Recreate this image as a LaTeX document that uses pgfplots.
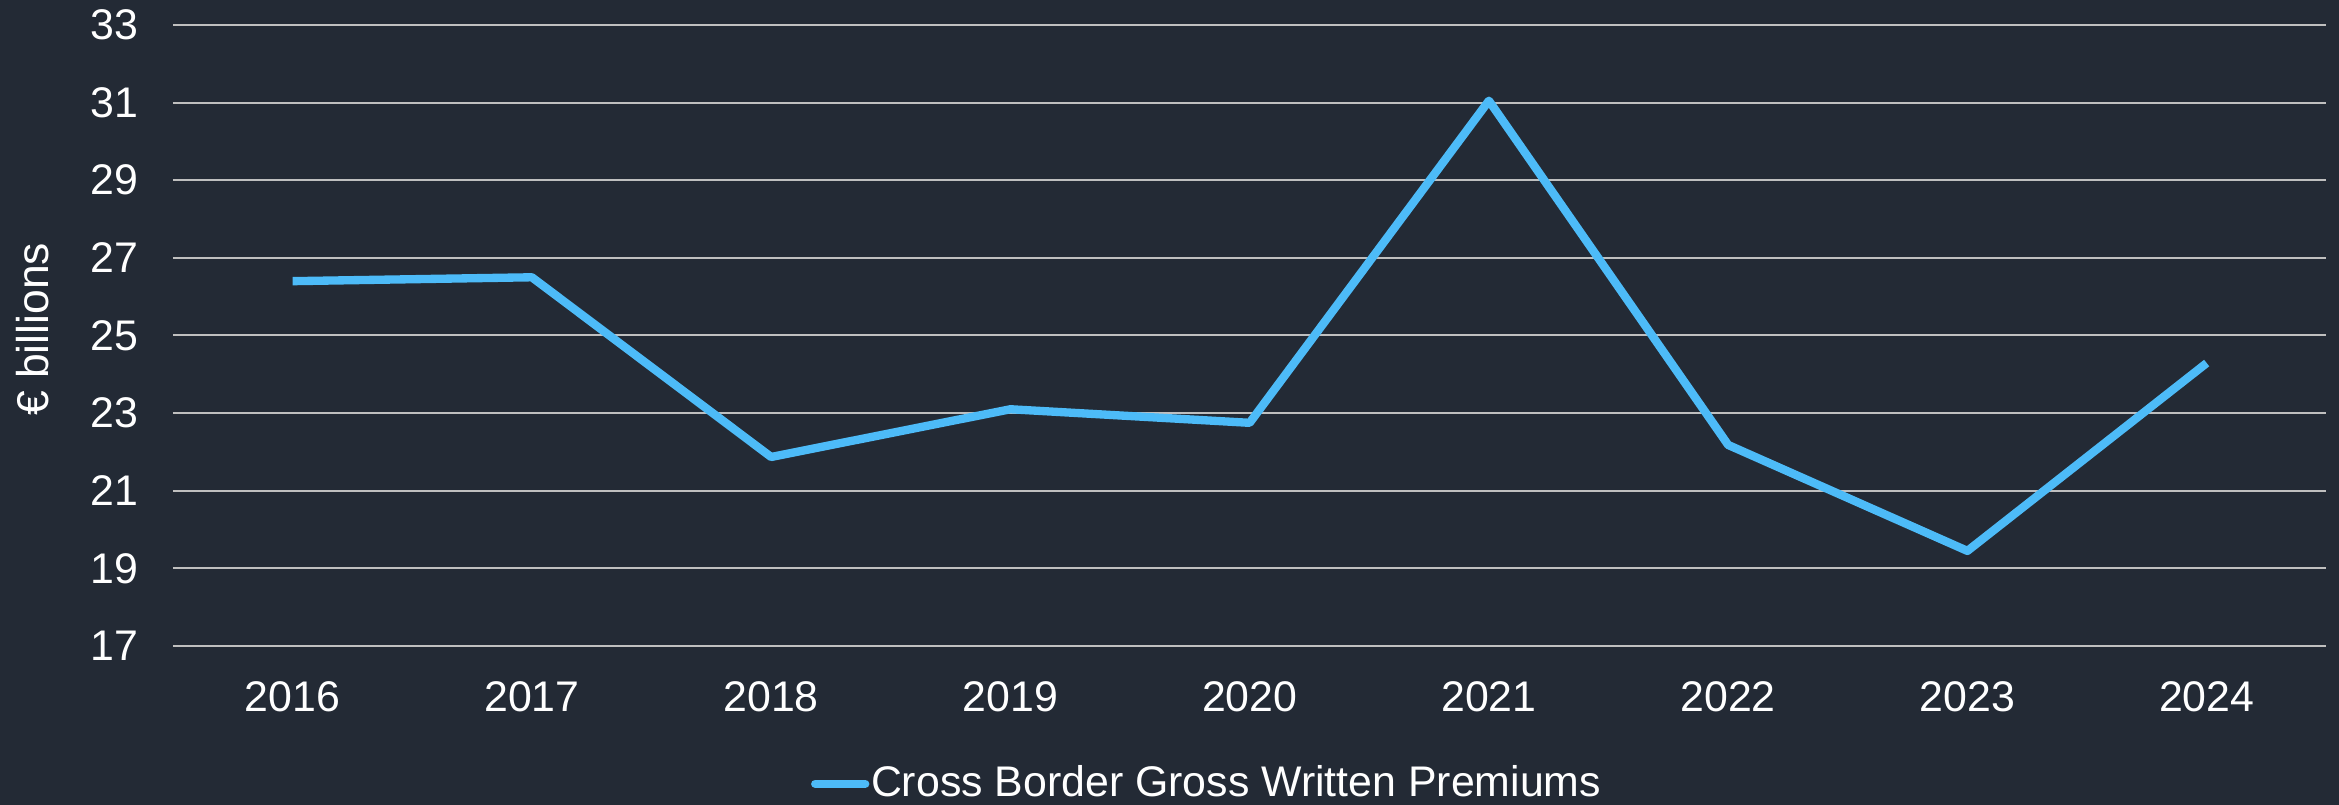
\documentclass[border=0pt]{standalone}
\usepackage{fontspec}
\setmainfont{Liberation Sans}
\usepackage{pgfplots}
\pgfplotsset{compat=1.18}
\definecolor{bgc}{HTML}{232A35}
\definecolor{linec}{HTML}{4DBBF8}
\definecolor{gridc}{HTML}{BFBFBF}
\begin{document}
\begin{tikzpicture}
\fill[bgc] (-51.9bp,-47.7bp) rectangle (649.8bp,193.8bp);
\begin{axis}[
  at={(0,0)}, anchor=south west,
  scale only axis,
  width=646bp, height=186.3bp,
  xmin=-0.5, xmax=8.5,
  ymin=17, ymax=33,
  xtick={0,1,2,3,4,5,6,7,8},
  xticklabels={2016,2017,2018,2019,2020,2021,2022,2023,2024},
  ytick={17,19,21,23,25,27,29,31,33},
  /pgf/number format/assume math mode=true,
  ymajorgrids,
  grid style={gridc, line width=0.6bp},
  axis line style={draw=none},
  tick style={draw=none},
  ticklabel style={white, font=\fontsize{12.9}{15}\selectfont},
  xticklabel style={yshift=-7.2bp},
  yticklabel style={xshift=-7bp},
  ylabel={€ billions},
  ylabel style={white, font=\fontsize{13.4}{16}\selectfont, at={(axis description cs:-0.065,0.51)}, anchor=center},
  legend style={at={(0.296,-0.222)}, anchor=west, draw=none, fill=none,
    inner sep=0pt, text=white, font=\fontsize{12.9}{15}\selectfont,
    nodes={inner sep=0.5pt}},
  legend image code/.code={\draw[#1, line cap=round] (0bp,0bp) -- (15bp,0bp);},
]
\addplot[linec, line width=2.5bp, line join=round] coordinates {
  (0,26.4) (1,26.5) (2,21.87) (3,23.1) (4,22.75) (5,31.05) (6,22.18) (7,19.45) (8,24.29)
};
\addlegendentry{Cross Border Gross Written Premiums}
\end{axis}
\pgfresetboundingbox
\useasboundingbox (-51.9bp,-47.7bp) rectangle (649.8bp,193.8bp);
\end{tikzpicture}
\end{document}
